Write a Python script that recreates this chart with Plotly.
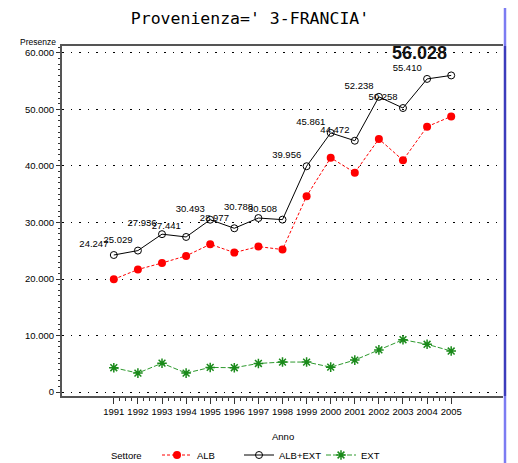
import plotly.graph_objects as go

years = list(range(1991, 2006))
alb_ext = [24247, 25029, 27936, 27441, 30493, 28977, 30788, 30508, 39956, 45861, 44472, 52238, 50258, 55410, 56028]
ext = [4300, 3350, 5100, 3350, 4350, 4300, 5050, 5300, 5300, 4400, 5650, 7450, 9250, 8450, 7250]
alb = [19947, 21679, 22836, 24091, 26143, 24677, 25738, 25208, 34656, 41461, 38822, 44788, 41008, 46960, 48778]
alb_ext_labels = ["24.247", "25.029", "27.936", "27.441", "30.493", "28.977", "30.788", "30.508",
                  "39.956", "45.861", "44.472", "52.238", "50.258", "55.410", ""]
max_label = "56.028"
y_ticks = [0, 10000, 20000, 30000, 40000, 50000, 60000]
y_tick_labels = ["0", "10.000", "20.000", "30.000", "40.000", "50.000", "60.000"]

# the page body has an 8px margin, so the figure is drawn 8px in from the window corner
OFF = 8
W, H = 518 - OFF, 463 - OFF
L, T, B = 62 - OFF, 46 - OFF, 67
R = W - (503 - OFF)
PW, PH = W - L - R, H - T - B

def px_x(sx):
    return (sx - OFF - L) / PW

def px_y(sy):
    return (H - B - (sy - OFF)) / PH

sans = "Liberation Sans, Arial, sans-serif"

fig = go.Figure()
fig.add_trace(go.Scatter(
    x=years, y=alb, name="ALB", mode="lines+markers",
    line=dict(color="#ff0000", width=1, dash="3px,2px"),
    marker=dict(symbol="circle", size=8, color="#ff0000"),
))
fig.add_trace(go.Scatter(
    x=years, y=alb_ext, name="ALB+EXT", mode="lines+markers+text",
    line=dict(color="#000000", width=1),
    marker=dict(symbol="circle-open", size=7, color="#000000", line=dict(width=1)),
    text=alb_ext_labels, textposition="top left",
    textfont=dict(family=sans, size=9.5, color="#000000"),
))
fig.add_trace(go.Scatter(
    x=years, y=ext, name="EXT", mode="lines+markers",
    line=dict(color="#2e9a2e", width=1, dash="5px,2px"),
    marker=dict(symbol="asterisk-open", size=8, color="#1a8a1a", line=dict(width=1.5, color="#1a8a1a")),
))

fig.add_annotation(x=2003.7, y=60000, xref="x", yref="y", text="<b>" + max_label + "</b>",
                   xanchor="center", yanchor="middle",
                   showarrow=False, font=dict(family=sans, size=18, color="#111111"))
fig.add_annotation(x=px_x(37.5), y=px_y(42), xref="paper", yref="paper", text="Presenze",
                   xanchor="center", yanchor="middle",
                   showarrow=False, font=dict(family=sans, size=8.5, color="#000000"))
fig.add_annotation(x=px_x(283), y=px_y(436), xref="paper", yref="paper", text="Anno",
                   xanchor="center", yanchor="middle",
                   showarrow=False, font=dict(family=sans, size=9.5, color="#000000"))
fig.add_annotation(x=px_x(109), y=px_y(455), xref="paper", yref="paper", text="Settore",
                   xanchor="left", yanchor="middle", showarrow=False,
                   font=dict(family=sans, size=9.5, color="#000000"))

# blue frame border at the right of the picture
for y0, y1, col in [(OFF, 46, "#7c7cf2"), (46, 396, "#3c3cbc"), (396, 463, "#7c7cf2")]:
    fig.add_shape(type="line", xref="paper", yref="paper", x0=px_x(505), x1=px_x(505),
                  y0=px_y(y0), y1=px_y(y1), line=dict(color=col, width=2.5))

fig.update_layout(
    width=W, height=H,
    margin=dict(l=L, r=R, t=T, b=B, autoexpand=False),
    plot_bgcolor="white", paper_bgcolor="white",
    title=dict(text="Provenienza=' 3-FRANCIA'", x=(250 - OFF) / W, xref="container", xanchor="center",
               y=1 - (18 - OFF) / H, yref="container", yanchor="middle",
               font=dict(family="DejaVu Sans Mono, monospace", size=16.5, color="#000000")),
    showlegend=True,
    legend=dict(orientation="h", x=px_x(157), y=px_y(455), xanchor="left", yanchor="middle",
                font=dict(family=sans, size=9.5, color="#000000"),
                itemwidth=30, entrywidth=37, bgcolor="rgba(0,0,0,0)"),
    xaxis=dict(range=[1988.85, 2007.15], tickmode="array", tickvals=years, ticktext=[str(y) for y in years],
               ticks="outside", ticklen=6, tickcolor="#333333", showgrid=False, zeroline=False,
               showline=True, linecolor="#555555", linewidth=2, mirror=True, tickangle=0,
               tickfont=dict(family=sans, size=9.5, color="#000000"),
               minor=dict(tickmode="array", tickvals=[y + f for y in years[:-1] for f in (0.25, 0.5, 0.75)],
                          ticks="outside", ticklen=3, tickcolor="#333333", showgrid=False)),
    yaxis=dict(range=[-707, 61237], tickmode="array", tickvals=y_ticks, ticktext=y_tick_labels,
               ticks="outside", ticklen=4, tickcolor="#333333", showgrid=True, gridcolor="#000000",
               gridwidth=1, griddash="1.5px,7px", zeroline=False,
               showline=True, linecolor="#555555", linewidth=2, mirror=False,
               tickfont=dict(family=sans, size=9.5, color="#000000"),
               minor=dict(dtick=1000, tick0=0, ticks="outside", ticklen=2, tickcolor="#333333", showgrid=False)),
)

fig.write_html("out.html")
